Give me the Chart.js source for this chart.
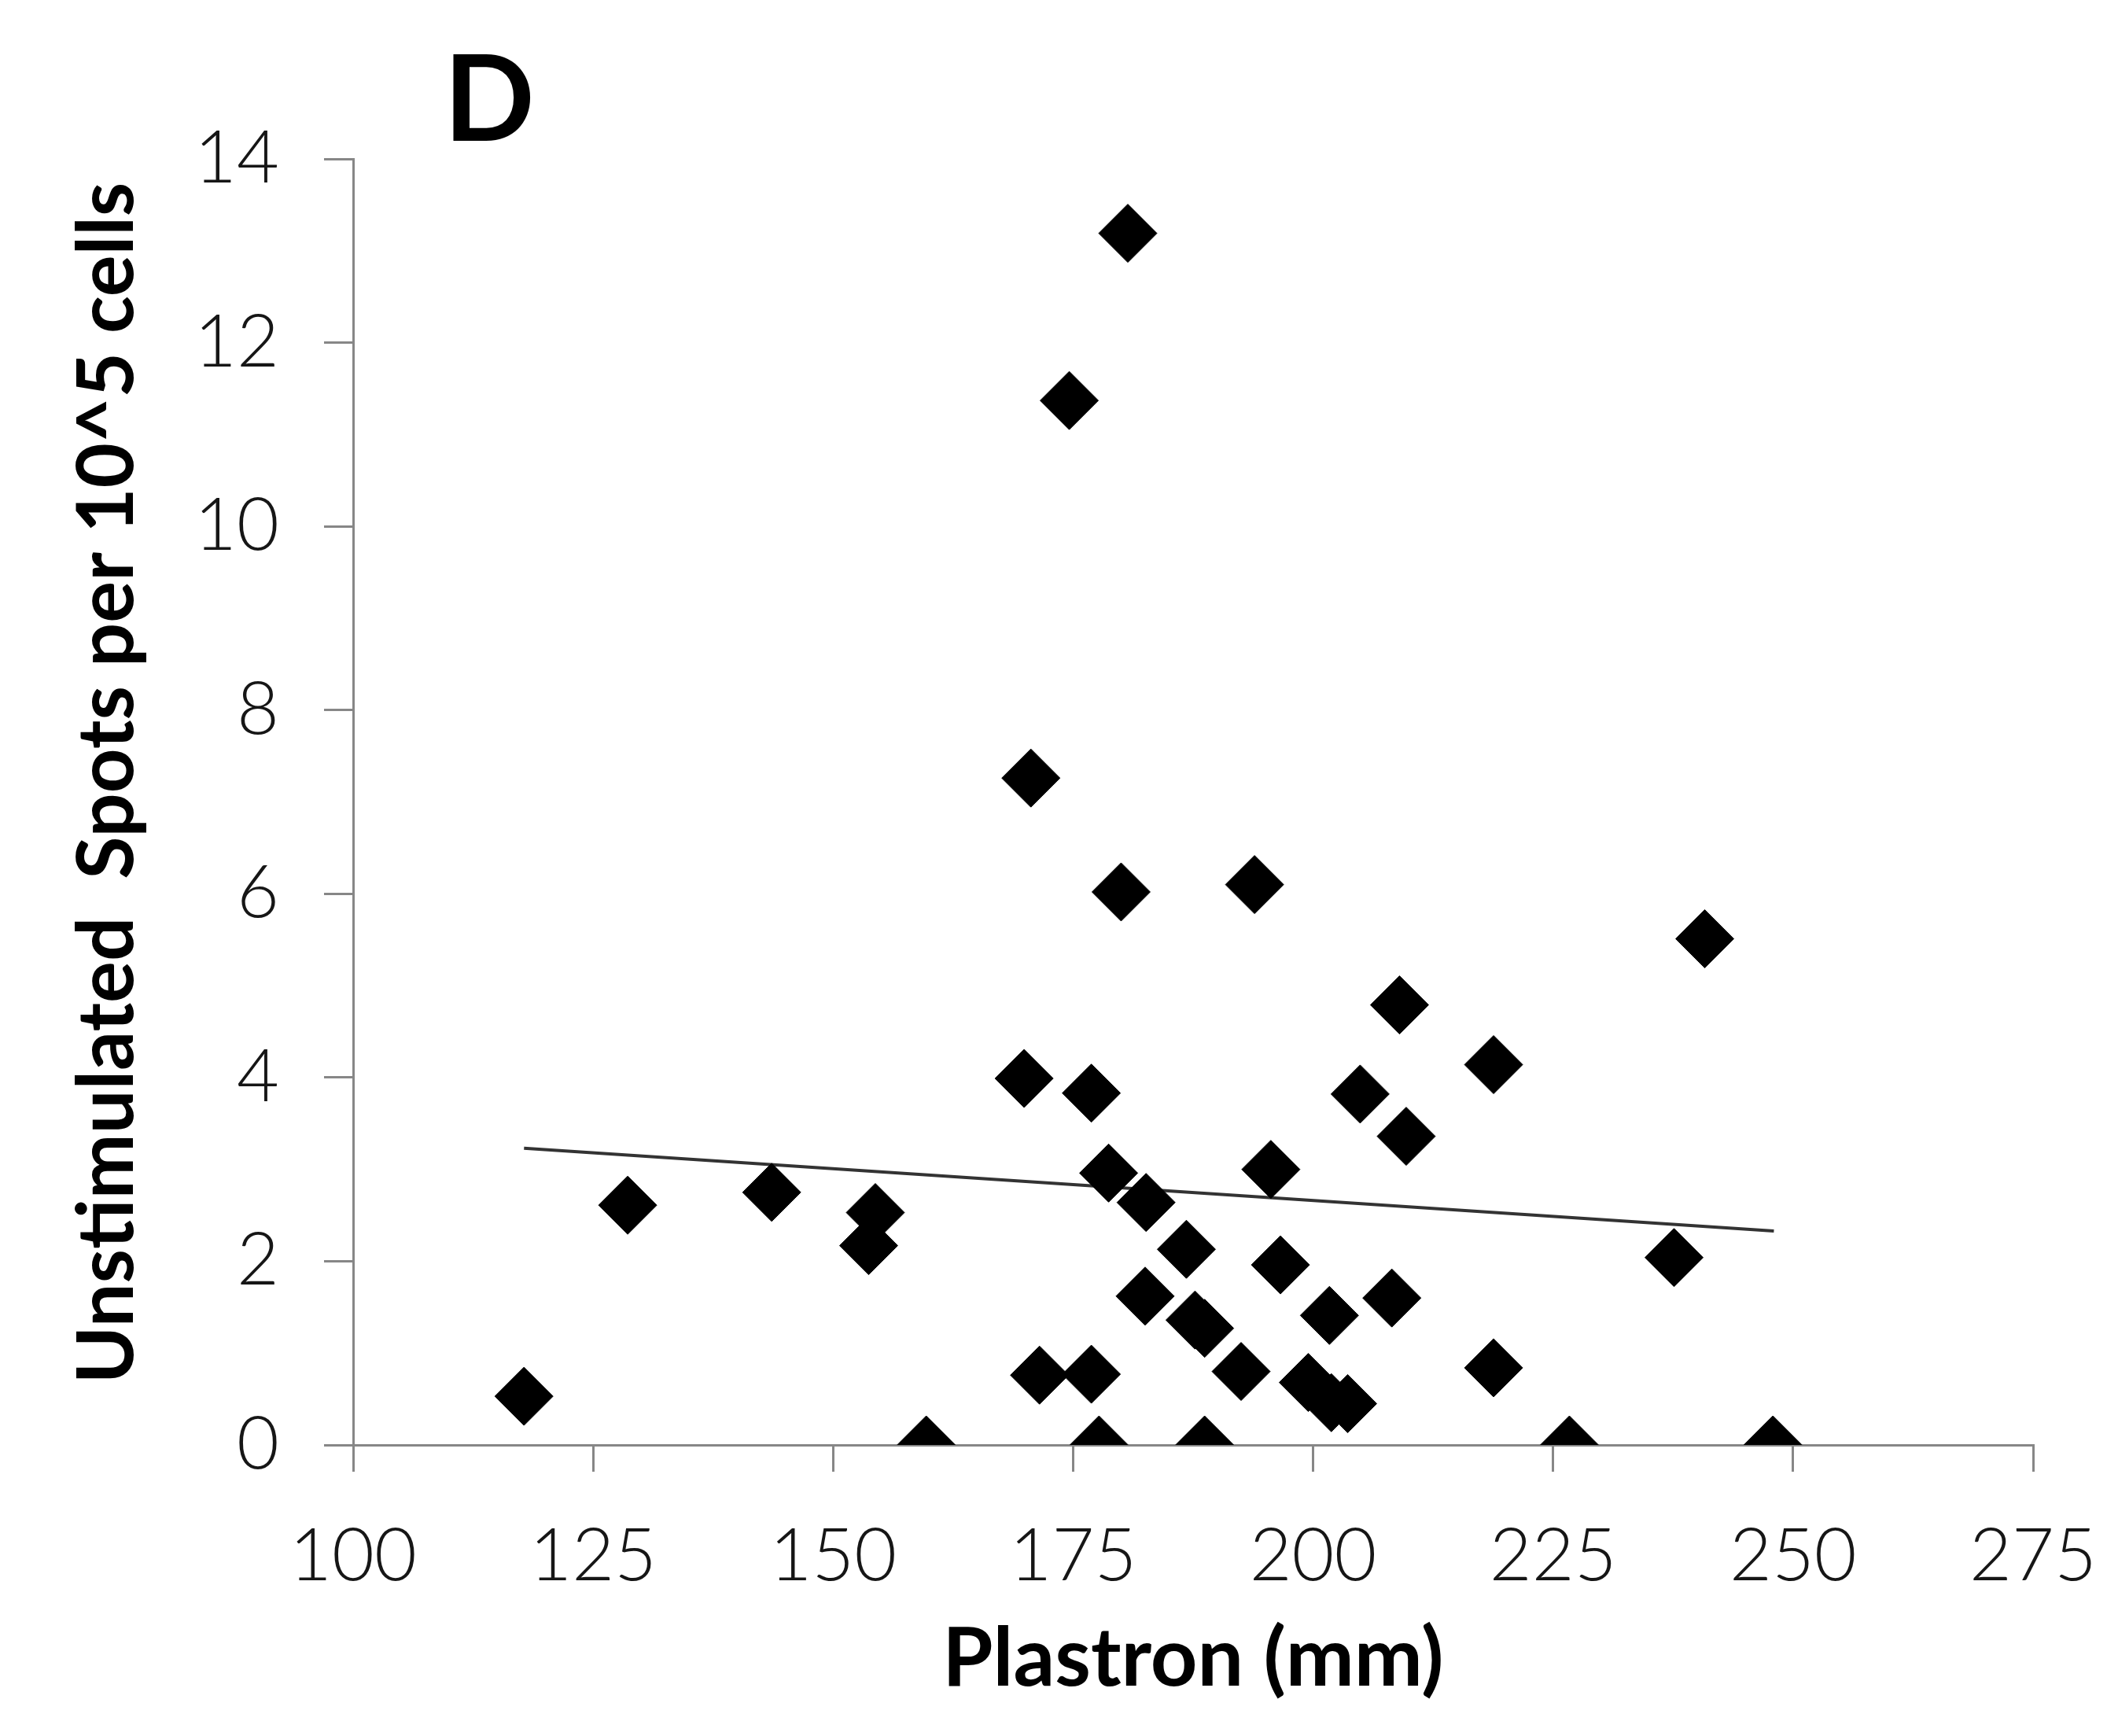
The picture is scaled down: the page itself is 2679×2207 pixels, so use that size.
<!DOCTYPE html>
<html>
<head>
<meta charset="utf-8">
<script src="https://cdn.jsdelivr.net/npm/chart.js@4.4.1/dist/chart.umd.min.js"></script>
<style>
  html, body { margin: 0; padding: 0; background: #fff; }
  canvas { display: block; }
</style>
</head>
<body>
<canvas id="plastronChart" width="2679" height="2207"></canvas>
<script>
// values (panel D)
const plastronMm = [
  117.8, 128.6, 143.6, 154.4, 153.7, 159.7, 169.9, 170.6, 171.5, 174.6,
  176.9, 176.9, 177.7, 178.7, 180.0, 180.7, 182.6, 182.5, 186.8, 187.7,
  188.7, 188.7, 192.5, 193.9, 195.6, 196.6, 199.5, 201.7, 201.9, 203.6,
  204.9, 208.2, 209.0, 209.7, 218.8, 218.8, 226.7, 237.6, 240.8, 247.9
];
const unstimulatedSpots = [
  0.53, 2.61, 2.75, 2.53, 2.17, 0.00, 3.99, 7.26, 0.76, 11.37,
  0.77, 3.83, 0.00, 2.96, 6.02, 13.19, 2.64, 1.62, 2.13, 1.36,
  1.27, 0.00, 0.80, 6.10, 3.00, 1.96, 0.68, 1.41, 0.46, 0.45,
  3.82, 1.60, 4.79, 3.36, 4.14, 0.84, 0.00, 2.04, 5.51, 0.00
];
// linear trend line end points
const trendX = [117.8, 248.0];
const trendY = [3.23, 2.33];

const xTicks = [100, 125, 150, 175, 200, 225, 250, 275];
const yTicks = [0, 2, 4, 6, 8, 10, 12, 14];

const AXIS_GREY = '#878787';
const TICK_FONT = { family: 'Lato', size: 93, weight: 300 };

// panel letter in the top left corner
const panelLetter = {
  id: 'panelLetter',
  afterDraw(chart) {
    const ctx = chart.ctx;
    ctx.save();
    ctx.fillStyle = '#000';
    ctx.font = 'bold 152px Lato';
    ctx.textAlign = 'center';
    ctx.textBaseline = 'alphabetic';
    ctx.fillText('D', 622, 179);
    ctx.restore();
  }
};

const points = plastronMm.map((x, i) => ({ x: x, y: unstimulatedSpots[i] }));
const trend = trendX.map((x, i) => ({ x: x, y: trendY[i] }));

new Chart(document.getElementById('plastronChart'), {
  type: 'scatter',
  data: {
    datasets: [
      {
        label: 'Trend',
        type: 'line',
        data: trend,
        borderColor: '#333333',
        borderWidth: 4,
        pointRadius: 0,
        fill: false,
        order: 2
      },
      {
        label: 'Spots',
        data: points,
        pointStyle: 'rectRot',
        pointRadius: 37,
        pointHoverRadius: 37,
        backgroundColor: '#000',
        borderColor: '#000',
        borderWidth: 1,
        order: 1
      }
    ]
  },
  options: {
    responsive: false,
    animation: false,
    devicePixelRatio: 1,
    layout: { padding: { top: 202, right: 94, left: 0, bottom: 0 } },
    plugins: {
      legend: { display: false },
      tooltip: { enabled: false }
    },
    scales: {
      x: {
        type: 'linear',
        min: xTicks[0],
        max: xTicks[xTicks.length - 1],
        afterBuildTicks: s => { s.ticks = xTicks.map(v => ({ value: v })); },
        afterFit: s => {
          s.height = 370;
          s.paddingLeft = 0;
          s.paddingRight = 0;
        },
        grid: { drawOnChartArea: false, drawTicks: true, tickLength: 34, color: AXIS_GREY, lineWidth: 3 },
        border: { display: true, color: AXIS_GREY, width: 3 },
        ticks: { color: '#161616', font: TICK_FONT, padding: 52, maxRotation: 0 },
        title: {
          display: true, text: 'Plastron (mm)', color: '#000',
          font: { family: 'Lato', size: 104, weight: 'bold', lineHeight: 1.2 },
          padding: { top: 0, bottom: 35 }
        }
      },
      y: {
        type: 'linear',
        min: yTicks[0],
        max: yTicks[yTicks.length - 1],
        afterBuildTicks: s => { s.ticks = yTicks.map(v => ({ value: v })); },
        afterFit: s => {
          s.width = 449;
          s.paddingTop = 0;
          s.paddingBottom = 0;
        },
        grid: { drawOnChartArea: false, drawTicks: true, tickLength: 37, color: AXIS_GREY, lineWidth: 3 },
        border: { display: true, color: AXIS_GREY, width: 3 },
        ticks: { color: '#161616', font: TICK_FONT, padding: 57 },
        title: {
          display: true, text: '  Unstimulated  Spots per 10^5 cells', color: '#000',
          font: { family: 'Lato', size: 99, weight: 'bold', lineHeight: 1.2 },
          padding: { top: 78, bottom: 0 }
        }
      }
    }
  },
  plugins: [panelLetter]
});
</script>
</body>
</html>
